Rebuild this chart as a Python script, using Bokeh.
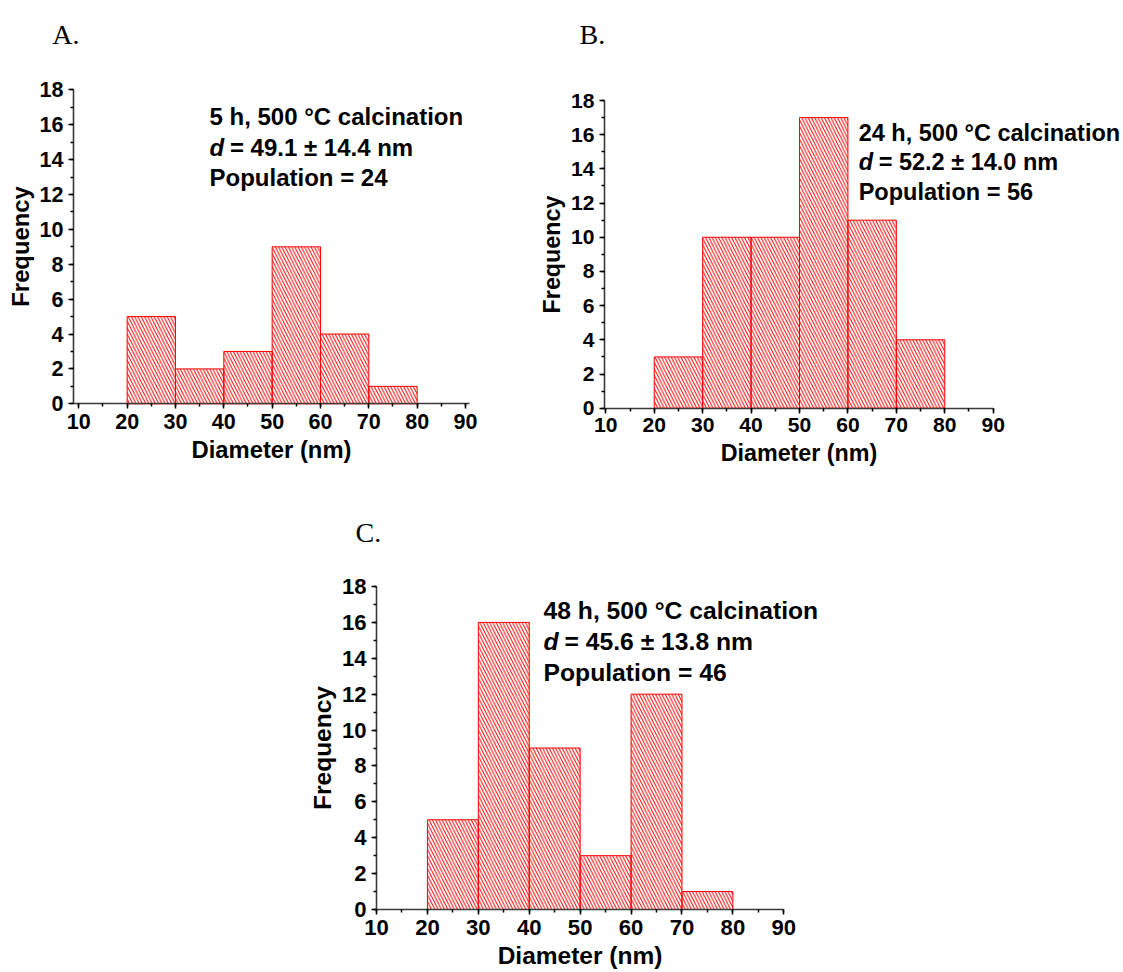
from bokeh.plotting import figure
from bokeh.models import Label, SingleIntervalTicker, Range1d, Spacer
from bokeh.layouts import column, row
from bokeh.embed import file_html
from bokeh.resources import INLINE

# ---------------- data ----------------
bin_left = [20, 30, 40, 50, 60, 70]
bin_right = [30, 40, 50, 60, 70, 80]
counts_5h = [5, 2, 3, 9, 4, 1]
counts_24h = [3, 10, 10, 17, 11, 4]
counts_48h = [5, 16, 9, 3, 12, 1]

panel_letters = ["A.", "B.", "C."]
line1_texts = ["5 h, 500 °C calcination", "24 h, 500 °C calcination", "48 h, 500 °C calcination"]
line2_texts = ["= 49.1 ± 14.4 nm", "= 52.2 ± 14.0 nm", "= 45.6 ± 13.8 nm"]
line3_texts = ["Population = 24", "Population = 56", "Population = 46"]

x_label = "Diameter (nm)"
y_label = "Frequency"

RED = "#FF0000"
SANS = "Liberation Sans"
SERIF = "Liberation Serif"
AXIS_GRAY = "#3a3a3a"


def make_panel(counts, canvas, xgeo, ygeo, x_bounds, letter, letter_px,
               text_px, lines, k):
    """canvas = (left, top, width, height) in page pixels.
    xgeo = (px of x=10, px of x=90); ygeo = (px of y=0, px of y=18).
    k = text scale of the panel."""
    cl, ct, cw, ch = canvas
    px10, px90 = xgeo
    py0, py18 = ygeo
    sx = (px90 - px10) / 80.0
    sy = (py0 - py18) / 18.0
    xr = (10 + (cl - px10) / sx, 10 + (cl + cw - px10) / sx)
    yr = ((py0 - (ct + ch)) / sy, (py0 - ct) / sy)

    def dx(px):
        return 10 + (px - px10) / sx

    def dy(py):
        return (py0 - py) / sy

    p = figure(width=cw, height=ch,
               x_range=Range1d(*xr), y_range=Range1d(*yr),
               output_backend="svg", toolbar_location=None,
               min_border=0)
    p.quad(left=bin_left, right=bin_right, top=counts, bottom=0,
           fill_color=None, line_color=RED, line_width=1,
           hatch_pattern="\\", hatch_color=RED, hatch_scale=6.5,
           hatch_weight=1)
    p.xgrid.visible = False
    p.ygrid.visible = False
    p.outline_line_color = None
    p.background_fill_color = "white"
    p.border_fill_color = "white"

    p.xaxis.fixed_location = 0
    p.xaxis.bounds = x_bounds
    p.yaxis.fixed_location = x_bounds[0]
    p.yaxis.bounds = (0, 18)
    p.xaxis.ticker = SingleIntervalTicker(interval=10, num_minor_ticks=2)
    p.yaxis.ticker = SingleIntervalTicker(interval=2, num_minor_ticks=2)
    p.xaxis.axis_label = x_label
    p.yaxis.axis_label = y_label
    for ax in (p.xaxis, p.yaxis):
        ax.axis_line_color = AXIS_GRAY
        ax.axis_line_width = 1.6
        ax.major_tick_line_color = "black"
        ax.major_tick_line_width = 1.5
        ax.minor_tick_line_color = "black"
        ax.minor_tick_line_width = 1.5
        ax.major_tick_in = 0
        ax.major_tick_out = 5
        ax.minor_tick_in = 0
        ax.minor_tick_out = 3
        ax.major_label_text_font = SANS
        ax.major_label_text_font_style = "bold"
        ax.major_label_text_font_size = "%.1fpx" % (21.5 * k)
        ax.major_label_text_color = "black"
        ax.axis_label_text_font = SANS
        ax.axis_label_text_font_style = "bold"
        ax.axis_label_text_font_size = "%.1fpx" % (23.8 * k)
        ax.axis_label_text_color = "black"
    p.xaxis.major_label_standoff = 5
    p.xaxis.axis_label_standoff = 4
    p.yaxis.major_label_standoff = 5
    p.yaxis.axis_label_standoff = 3

    # panel letter
    p.add_layout(Label(x=dx(letter_px[0]), y=dy(letter_px[1]), text=letter,
                       text_font=SERIF, text_font_size="28px",
                       text_color="black", text_baseline="alphabetic"))
    # annotation lines
    size = 24 * k
    fs = "%.1fpx" % size
    tx = dx(text_px[0])
    common = dict(text_font=SANS, text_font_size=fs, text_color="black",
                  text_baseline="alphabetic", text_font_style="bold")
    p.add_layout(Label(x=tx, y=dy(text_px[1]), text=lines[0], **common))
    p.add_layout(Label(x=tx, y=dy(text_px[2]), text="d",
                       text_font=SANS, text_font_size=fs, text_color="black",
                       text_baseline="alphabetic", text_font_style="bold italic"))
    p.add_layout(Label(x=tx, y=dy(text_px[2]), x_offset=0.85 * size,
                       text=lines[1], **common))
    p.add_layout(Label(x=tx, y=dy(text_px[3]), text=lines[2], **common))
    return p


pA = make_panel(counts_5h, (0, 0, 539, 488), (78.3, 465.0), (403.3, 89.3),
                (8.9, 90.83), panel_letters[0], (51.7, 34.0),
                (209.0, 116.0, 146.7, 176.7),
                (line1_texts[0], line2_texts[0], line3_texts[0]), 1.0)
pB = make_panel(counts_24h, (539, 0, 583, 488), (605.3, 992.7), (407.7, 100.0),
                (9.73, 90.0), panel_letters[1], (579.0, 34.3),
                (858.2, 132.3, 161.7, 191.7),
                (line1_texts[1], line2_texts[1], line3_texts[1]), 0.98)
pC = make_panel(counts_48h, (303, 488, 530, 483), (376.0, 783.3), (909.0, 586.0),
                (10.0, 90.0), panel_letters[2], (355.0, 532.0),
                (543.0, 610.0, 641.0, 671.7),
                (line1_texts[2], line2_texts[2], line3_texts[2]), 1.03)

layout = column(row(pA, pB), row(Spacer(width=303, height=483), pC))

open("out.html", "w").write(file_html(layout, INLINE))
